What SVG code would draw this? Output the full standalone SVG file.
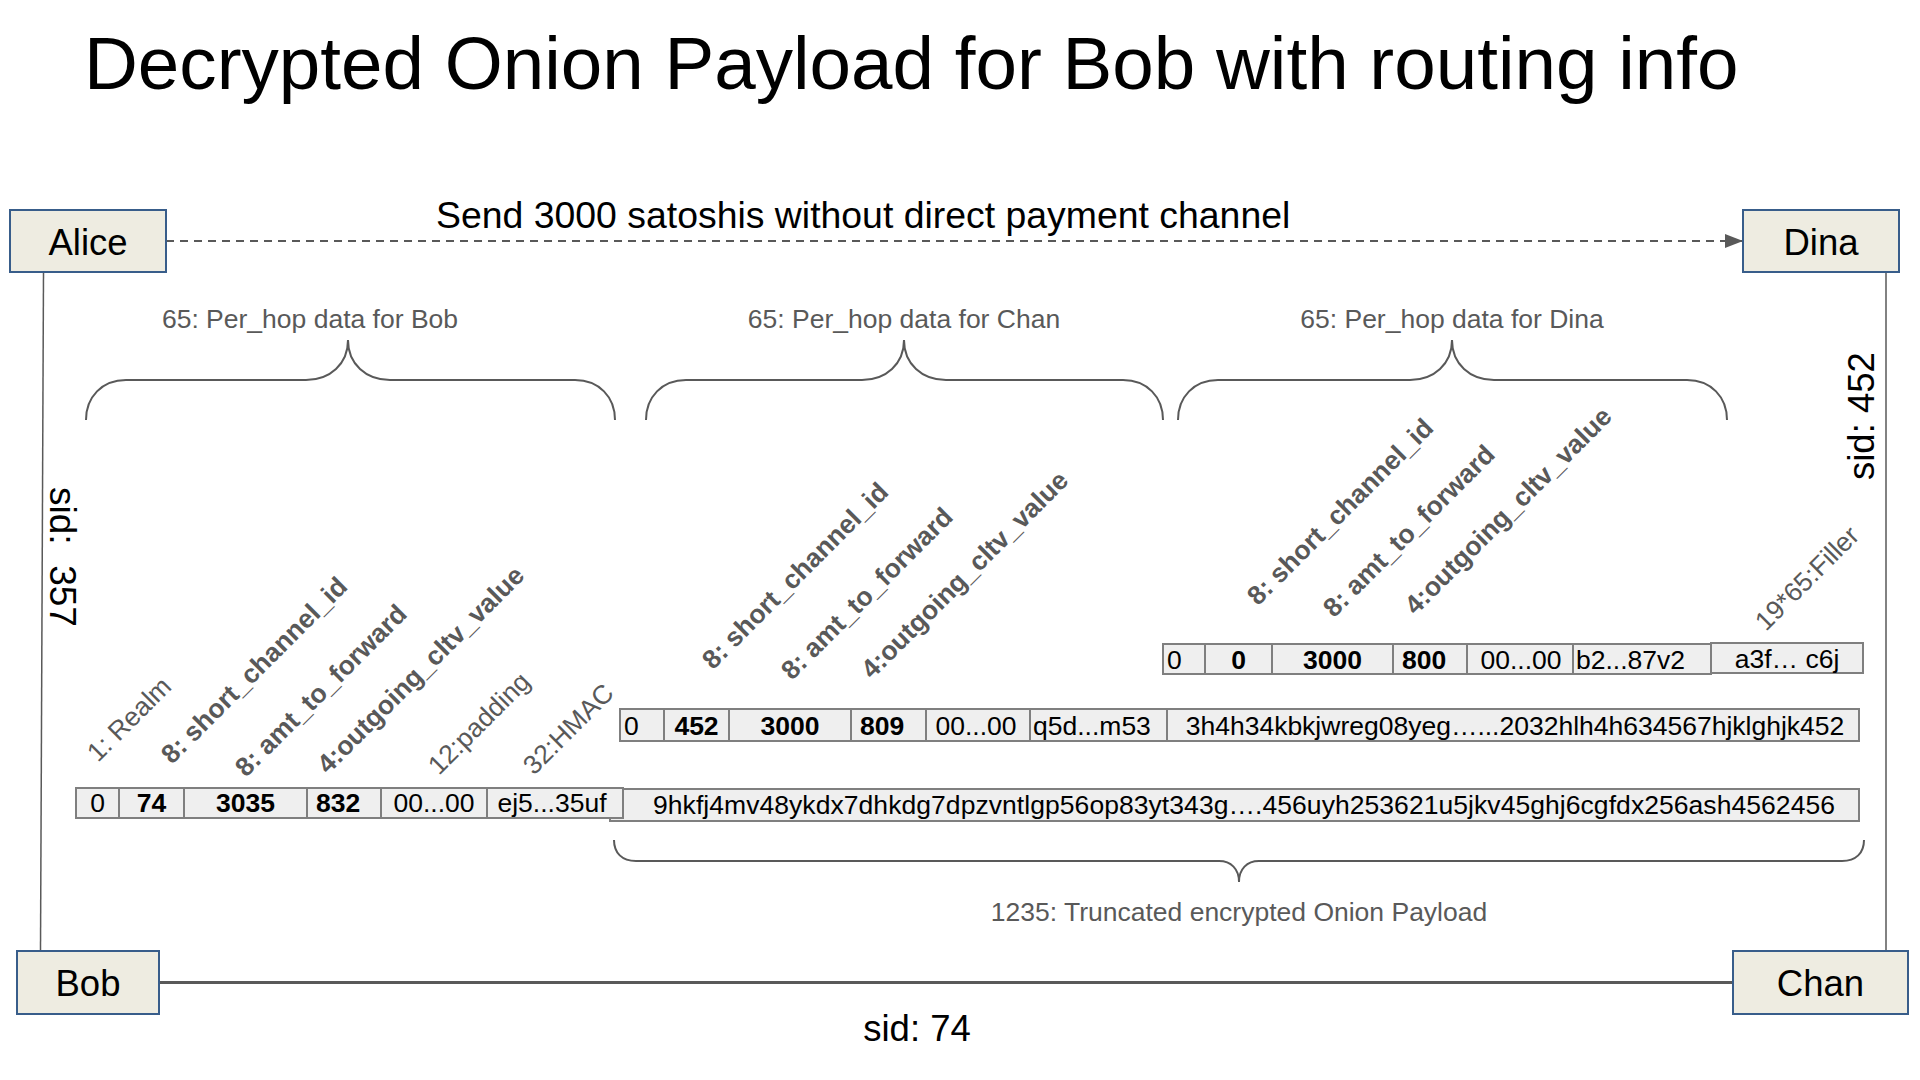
<svg xmlns="http://www.w3.org/2000/svg" width="1920" height="1080" viewBox="0 0 1920 1080">
<defs>
<style>
text{font-family:"Liberation Sans",Arial,sans-serif}
.title{font-size:74.6px;fill:#000}
.big{font-size:36.5px;fill:#000}
.node rect{fill:#eeece1;stroke:#385d8a;stroke-width:2}
.node text{font-size:36.5px;fill:#000;text-anchor:middle}
.brace{fill:none;stroke:#595959;stroke-width:2}
.blabel{font-size:26.5px;fill:#595959;text-anchor:middle}
.lab{font-size:26.5px;fill:#595959}
.lab.b{font-weight:bold}
.cell rect{fill:#efefef;stroke:#7f7f7f;stroke-width:2}
.cell text{font-size:26.5px;fill:#000}
.c{text-anchor:middle}
.bd{font-weight:bold}
.conn{stroke:#595959;fill:none}
</style>
<marker id="arr" markerUnits="userSpaceOnUse" markerWidth="18" markerHeight="14" refX="18" refY="7" orient="auto">
<path d="M0,0 L18,7 L0,14 z" fill="#595959"/>
</marker>
</defs>
<rect width="1920" height="1080" fill="#fff"/>
<text class="title" x="84" y="89">Decrypted Onion Payload for Bob with routing info</text>

<g id="connectors">
<line class="conn" x1="166" y1="241" x2="1743" y2="241" stroke-width="2" stroke-dasharray="8,6" marker-end="url(#arr)"/>
<line class="conn" x1="43.5" y1="272" x2="40.5" y2="951" stroke-width="1.5"/>
<line class="conn" x1="1886" y1="272" x2="1886" y2="951" stroke-width="1.5"/>
<line class="conn" x1="159" y1="982.5" x2="1733" y2="982.5" stroke-width="3"/>
<text class="big" x="436" y="228" style="font-size:37.4px">Send 3000 satoshis without direct payment channel</text>
<text class="big" transform="translate(50 487) rotate(90)" style="font-size:37px">sid:&#160; 357</text>
<text class="big" transform="translate(1874 480) rotate(-90)">sid: 452</text>
<text class="big" x="917" y="1041" text-anchor="middle">sid: 74</text>
</g>

<g id="alice" class="node"><rect x="10" y="210" width="156" height="62"/><text x="88" y="254.5">Alice</text></g>
<g id="dina" class="node"><rect x="1743" y="210" width="156" height="62"/><text x="1821" y="254.5">Dina</text></g>
<g id="bob" class="node"><rect x="17" y="951" width="142" height="63"/><text x="88" y="996">Bob</text></g>
<g id="chan" class="node"><rect x="1733" y="951" width="175" height="63"/><text x="1820.5" y="996">Chan</text></g>

<g id="braces">
<path class="brace" d="M86,420 C86,397 102,380 126,380 L306,380 C330,380 348,364 348,340 C348,364 366,380 390,380 L575,380 C599,380 615,397 615,420"/>
<path class="brace" d="M646,420 C646,397 662,380 686,380 L862,380 C886,380 904,364 904,340 C904,364 922,380 946,380 L1123,380 C1147,380 1163,397 1163,420"/>
<path class="brace" d="M1178,420 C1178,397 1194,380 1218,380 L1410,380 C1434,380 1452,364 1452,340 C1452,364 1470,380 1494,380 L1687,380 C1711,380 1727,397 1727,420"/>
<path class="brace" d="M614,840 C614,853 622,861 636,861 L1219,861 C1231,861 1239,869 1239,882 C1239,869 1247,861 1259,861 L1842,861 C1856,861 1864,853 1864,840"/>
<text class="blabel" x="310" y="328">65: Per_hop data for Bob</text>
<text class="blabel" x="904" y="328">65: Per_hop data for Chan</text>
<text class="blabel" x="1452" y="328">65: Per_hop data for Dina</text>
<text class="blabel" x="1239" y="921">1235: Truncated encrypted Onion Payload</text>
</g>

<g id="labels-bob">
<text class="lab" transform="translate(98 763) rotate(-45)">1: Realm</text>
<text class="lab b" transform="translate(172 765) rotate(-45)">8: short_channel_id</text>
<text class="lab b" transform="translate(246 778) rotate(-45)">8: amt_to_forward</text>
<text class="lab b" transform="translate(328 775) rotate(-45)">4:outgoing_cltv_value</text>
<text class="lab" transform="translate(439 776) rotate(-45)">12:padding</text>
<text class="lab" transform="translate(534 776) rotate(-45)">32:HMAC</text>
</g>
<g id="labels-chan">
<text class="lab b" transform="translate(713 670.5) rotate(-45)">8: short_channel_id</text>
<text class="lab b" transform="translate(792 681) rotate(-45)">8: amt_to_forward</text>
<text class="lab b" transform="translate(872 680) rotate(-45)">4:outgoing_cltv_value</text>
</g>
<g id="labels-dina">
<text class="lab b" transform="translate(1258 606.5) rotate(-45)">8: short_channel_id</text>
<text class="lab b" transform="translate(1334 618.5) rotate(-45)">8: amt_to_forward</text>
<text class="lab b" transform="translate(1415.5 616) rotate(-45)">4:outgoing_cltv_value</text>
<text class="lab" transform="translate(1766 632) rotate(-45)">19*65:Filler</text>
</g>

<g id="row-bob" class="cell">
<rect x="610" y="789" width="1249" height="32"/>
<text class="c" x="1244" y="814" textLength="1182" lengthAdjust="spacing">9hkfj4mv48ykdx7dhkdg7dpzvntlgp56op83yt343g….456uyh253621u5jkv45ghj6cgfdx256ash4562456</text>
<rect x="76" y="788" width="43" height="30"/><text class="c" x="97.5" y="812">0</text>
<rect x="119" y="788" width="65" height="30"/><text class="c bd" x="151.5" y="812">74</text>
<rect x="184" y="788" width="123" height="30"/><text class="c bd" x="245.5" y="812">3035</text>
<rect x="307" y="788" width="74" height="30"/><text class="bd" x="316" y="812">832</text>
<rect x="381" y="788" width="106" height="30"/><text class="c" x="434" y="812">00...00</text>
<rect x="487" y="788" width="136" height="30"/><text class="c" x="552" y="812">ej5...35uf</text>
</g>

<g id="row-chan" class="cell">
<rect x="620" y="709" width="44" height="32"/><text x="624" y="734.5">0</text>
<rect x="664" y="709" width="65" height="32"/><text class="c bd" x="696.5" y="734.5">452</text>
<rect x="729" y="709" width="122" height="32"/><text class="c bd" x="790" y="734.5">3000</text>
<rect x="851" y="709" width="75" height="32"/><text class="bd" x="860" y="734.5">809</text>
<rect x="926" y="709" width="104" height="32"/><text class="c" x="976" y="734.5">00...00</text>
<rect x="1030" y="709" width="137" height="32"/><text x="1033" y="734.5">q5d...m53</text>
<rect x="1167" y="709" width="692" height="32"/><text class="c" x="1515" y="734.5">3h4h34kbkjwreg08yeg…...2032hlh4h634567hjklghjk452</text>
</g>

<g id="row-dina" class="cell">
<rect x="1163" y="644" width="42" height="30"/><text x="1167" y="668.5">0</text>
<rect x="1205" y="644" width="67" height="30"/><text class="c bd" x="1238.5" y="668.5">0</text>
<rect x="1272" y="644" width="121" height="30"/><text class="c bd" x="1332.5" y="668.5">3000</text>
<rect x="1393" y="644" width="74" height="30"/><text class="bd" x="1402" y="668.5">800</text>
<rect x="1467" y="644" width="106" height="30"/><text class="c" x="1521" y="668.5">00...00</text>
<rect x="1573" y="644" width="138" height="30"/><text x="1576" y="668.5">b2...87v2</text>
<rect x="1711" y="643" width="152" height="30"/><text class="c" x="1787" y="667.5">a3f… c6j</text>
</g>
</svg>
